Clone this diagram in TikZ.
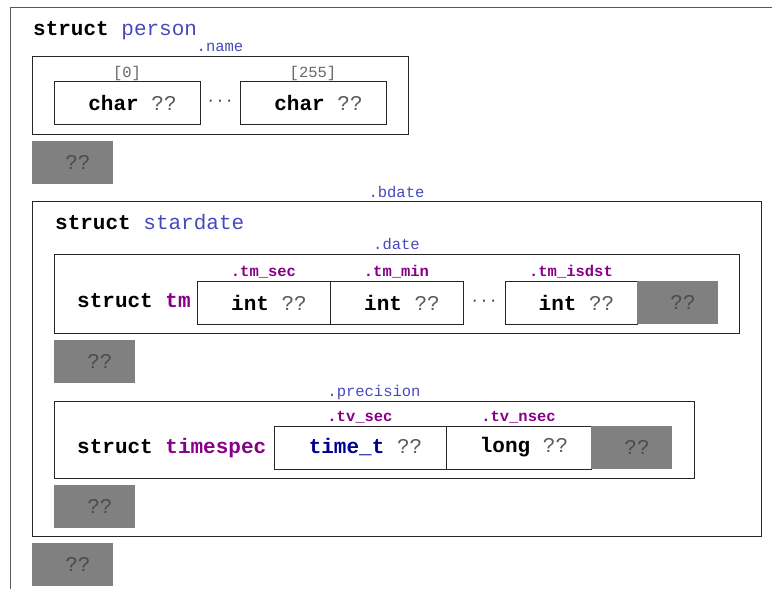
\documentclass[tikz,border=0pt]{standalone}
\usepackage{fontspec}
\setmonofont{Liberation Mono}
\usetikzlibrary{positioning,calc}

\definecolor{fieldblue}{HTML}{4848BC}
\definecolor{typepurple}{HTML}{880088}
\definecolor{typenavy}{HTML}{000090}
\definecolor{padgray}{HTML}{808080}
\definecolor{qgray}{HTML}{5A5A5A}

\newcommand{\codefont}{\fontsize{21}{21}\selectfont\ttfamily}
\newcommand{\tagfont}{\fontsize{15.5}{15.5}\selectfont\ttfamily}
\newcommand{\unk}{\textcolor{qgray}{??}}

\begin{document}
\begin{tikzpicture}[x=1pt, y=-1pt,
    box/.style={draw=black!85, line width=0.9pt, inner sep=0pt, outer sep=0pt, anchor=north west},
    cell/.style={box, minimum height=43, font=\codefont, execute at begin node=\hspace*{11pt}},
    pad/.style={fill=padgray, inner sep=0pt, outer sep=0pt, minimum width=81, minimum height=43, anchor=north west, font=\codefont, text=black!70, execute at begin node=\hspace*{11pt}},
    head/.style={anchor=base west, inner sep=0pt, font=\codefont},
    field/.style={font=\tagfont, text=fieldblue, anchor=base},
    member/.style={font=\tagfont\bfseries, text=typepurple, anchor=base},
    index/.style={font=\tagfont, text=black!60, anchor=base},
    dots/.style={font=\tagfont, text=black!70}]
                \useasboundingbox (0,0) rectangle (772,589);

                % struct person
                \draw[black!65, line width=1pt] (10,589) |- (772,7);
                \node[head] (person) at (33,35) {\textbf{struct} \textcolor{fieldblue}{person}};

                \node[box, minimum width=376, minimum height=78] (name) at (32,56) {};
                \node[field] at ([yshift=5pt]name.north) {.name};
                \node[cell, minimum width=146] (c0) at (54,81) {\textbf{char} \unk};
                \node[cell, minimum width=146] (c255) at (240,81) {\textbf{char} \unk};
                \node[index] at ([yshift=4pt]c0.north) {[0]};
                \node[index] at ([yshift=4pt]c255.north) {[255]};
                \node[dots] (d0) at ($(c0.east)!0.5!(c255.west)$) {···};
                \node[pad] (p0) at (32,141) {??};

                % struct stardate
                \node[box, minimum width=729, minimum height=335] (bdate) at (32,201) {};
                \node[field] at ([yshift=4pt]bdate.north) {.bdate};
                \node[head] (stardate) at (55,229) {\textbf{struct} \textcolor{fieldblue}{stardate}};

                % struct tm
                \node[box, minimum width=685, minimum height=79] (date) at (54,254) {};
                \node[field] at ([yshift=5pt]date.north) {.date};
                \node[head] (tm) at (77,307) {\textbf{struct} \textcolor{typepurple}{\textbf{tm}}};
                \node[cell, minimum width=133] (sec) at (197,281) {\textbf{int} \unk};
                \node[cell, minimum width=133, right=0pt of sec] (min) {\textbf{int} \unk};
                \node[cell, minimum width=132] (isdst) at (505,281) {\textbf{int} \unk};
                \node[pad, right=0pt of isdst] (p1) {??};
                \node[member] at ([yshift=5pt]sec.north) {.tm\_sec};
                \node[member] at ([yshift=5pt]min.north) {.tm\_min};
                \node[member] at ([yshift=5pt]isdst.north) {.tm\_isdst};
                \node[dots] (d1) at ($(min.east)!0.5!(isdst.west)$) {···};
                \node[pad] (p2) at (54,340) {??};

                % struct timespec
                \node[box, minimum width=640, minimum height=77] (precision) at (54,401) {};
                \node[field] at ([yshift=5pt]precision.north) {.precision};
                \node[head] (timespec) at (77,453) {\textbf{struct} \textcolor{typepurple}{\textbf{timespec}}};
                \node[cell, minimum width=172] (tvsec) at (274,426) {\textcolor{typenavy}{\textbf{time\_t}} \unk};
                \node[cell, minimum width=145, right=0pt of tvsec] (tvnsec) {\textbf{long} \unk};
                \node[pad, right=0pt of tvnsec] (p3) {??};
                \node[member] at ([yshift=5pt]tvsec.north) {.tv\_sec};
                \node[member] at ([yshift=5pt]tvnsec.north) {.tv\_nsec};
                \node[pad] (p4) at (54,485) {??};

                \node[pad] (p5) at (32,543) {??};
            \end{tikzpicture}
\end{document}
